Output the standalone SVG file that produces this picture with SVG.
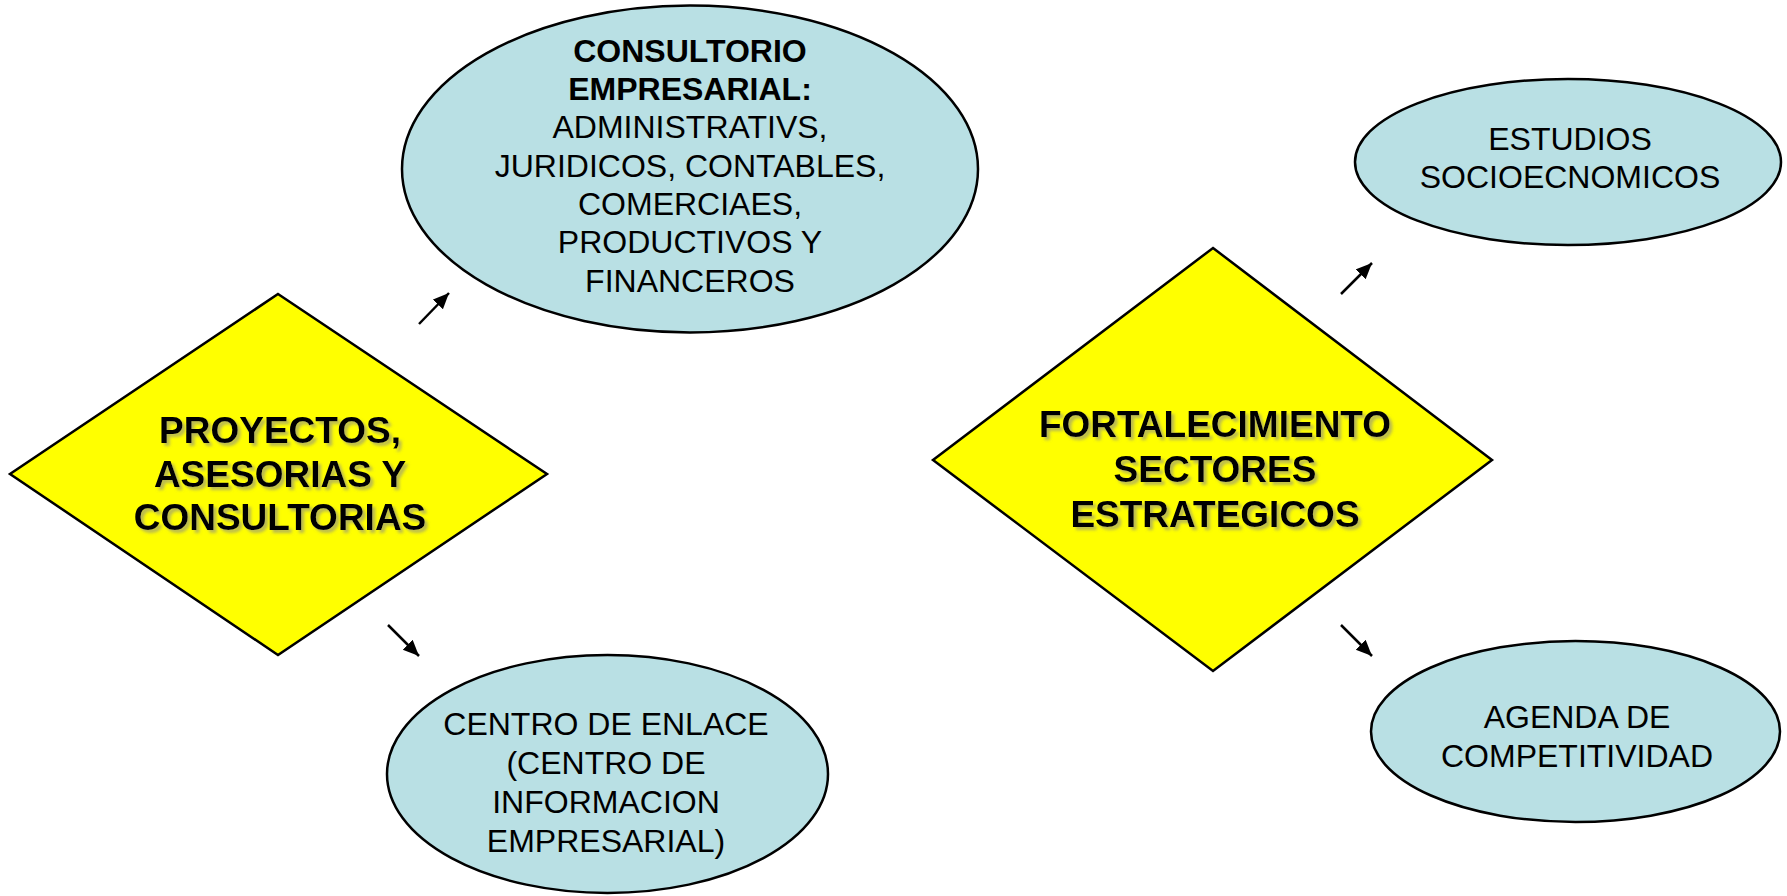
<svg xmlns="http://www.w3.org/2000/svg" width="1787" height="896" viewBox="0 0 1787 896">
<style>
.ell{fill:#b9e0e4;stroke:#000;stroke-width:2.5}
.dia{fill:#ffff00;stroke:#000;stroke-width:2.5}
.t{font-family:"Liberation Sans",Arial,sans-serif;font-size:32px;fill:#000;text-anchor:middle}
.b{font-weight:bold}
.big{font-family:"Liberation Sans",Arial,sans-serif;font-size:37px;font-weight:bold;fill:#000;text-anchor:middle;filter:url(#ts)}
.con{stroke:#000;stroke-width:2.5;fill:none;marker-end:url(#ah)}
</style>
<defs>
<filter id="ts" x="-10%" y="-30%" width="120%" height="160%">
<feDropShadow dx="3" dy="3" stdDeviation="1.5" flood-color="#8a8a8a" flood-opacity="0.6"/>
</filter>
<marker id="ah" markerUnits="userSpaceOnUse" markerWidth="20" markerHeight="16" refX="16" refY="7" orient="auto">
<path d="M0,0 L16,7 L0,14 Z" fill="#000"/>
</marker>
</defs>
<rect width="1787" height="896" fill="#fff"/>

<g id="n-proyectos">
<polygon class="dia" points="278,294 547,474 278,655 10,474"/>
<text class="big" x="280" y="443">PROYECTOS,</text>
<text class="big" x="280" y="487">ASESORIAS Y</text>
<text class="big" x="280" y="530">CONSULTORIAS</text>
</g>

<g id="n-consultorio">
<ellipse class="ell" cx="690" cy="169" rx="288" ry="163.5"/>
<text class="t b" x="690" y="62">CONSULTORIO</text>
<text class="t b" x="690" y="100">EMPRESARIAL:</text>
<text class="t" x="690" y="138">ADMINISTRATIVS,</text>
<text class="t" x="690" y="177">JURIDICOS, CONTABLES,</text>
<text class="t" x="690" y="215">COMERCIAES,</text>
<text class="t" x="690" y="253">PRODUCTIVOS Y</text>
<text class="t" x="690" y="292">FINANCEROS</text>
</g>

<g id="n-centro">
<ellipse class="ell" cx="607.5" cy="774" rx="220.5" ry="119"/>
<text class="t" x="606" y="735">CENTRO DE ENLACE</text>
<text class="t" x="606" y="774">(CENTRO DE</text>
<text class="t" x="606" y="813">INFORMACION</text>
<text class="t" x="606" y="852">EMPRESARIAL)</text>
</g>

<g id="n-fortalecimiento">
<polygon class="dia" points="1213,248 1492,460 1213,671 933,460"/>
<text class="big" x="1215" y="437">FORTALECIMIENTO</text>
<text class="big" x="1215" y="482">SECTORES</text>
<text class="big" x="1215" y="527">ESTRATEGICOS</text>
</g>

<g id="n-estudios">
<ellipse class="ell" cx="1568" cy="162" rx="213" ry="83"/>
<text class="t" x="1570" y="150">ESTUDIOS</text>
<text class="t" x="1570" y="188">SOCIOECNOMICOS</text>
</g>

<g id="n-agenda">
<ellipse class="ell" cx="1575.5" cy="731.5" rx="204.5" ry="90.5"/>
<text class="t" x="1577" y="728">AGENDA DE</text>
<text class="t" x="1577" y="767">COMPETITIVIDAD</text>
</g>

<g id="connectors">
<line class="con" x1="419" y1="324" x2="449" y2="293"/>
<line class="con" x1="388" y1="625" x2="419" y2="656"/>
<line class="con" x1="1341" y1="294" x2="1372" y2="263"/>
<line class="con" x1="1341" y1="625" x2="1372" y2="656"/>
</g>
</svg>
